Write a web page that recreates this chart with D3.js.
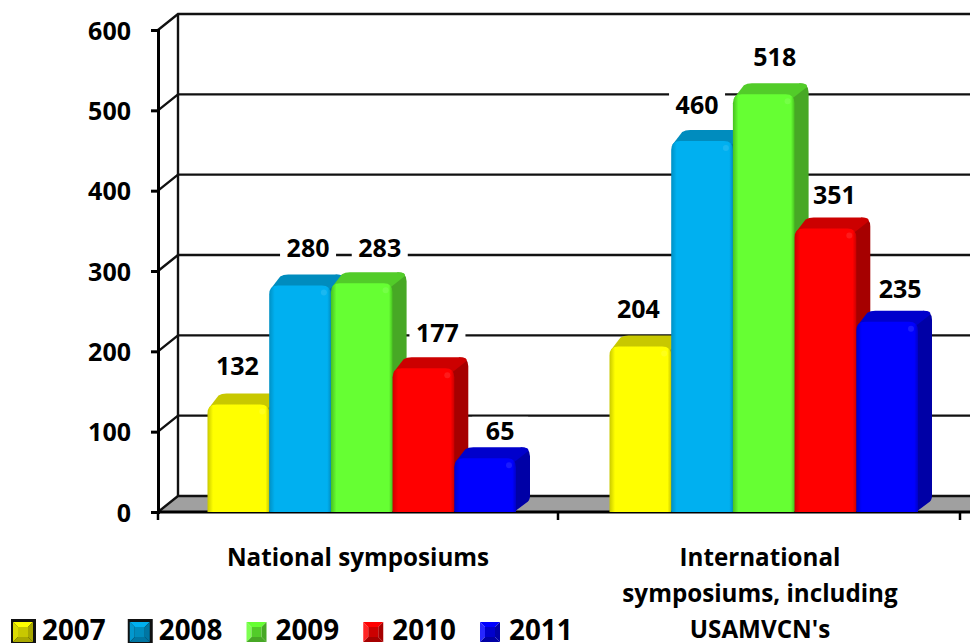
<!DOCTYPE html>
<html><head><meta charset="utf-8">
<script src="https://cdn.jsdelivr.net/npm/d3@7/dist/d3.min.js"></script>
<style>html,body{margin:0;padding:0;background:#fff;overflow:hidden}svg{display:block}
text{font-family:"Open Sans",Lato,sans-serif;font-weight:700;fill:#000}</style>
</head><body><svg id="c" width="970" height="643"></svg>
<script>
const categories = ["National symposiums", "International symposiums, including USAMVCN's"];
const categoryLines = [["National symposiums"], ["International", "symposiums, including", "USAMVCN's"]];
const years = ["2007", "2008", "2009", "2010", "2011"];
const s2007 = [132, 204];
const s2008 = [280, 460];
const s2009 = [283, 518];
const s2010 = [177, 351];
const s2011 = [65, 235];
const yTicks = [0, 100, 200, 300, 400, 500, 600];
const seriesValues = [s2007, s2008, s2009, s2010, s2011];
const faceColors = ["#FFFF00", "#00B0F0", "#66FF33", "#FF0000", "#0000FF"];
const topColors = ["#C8C800", "#008CBE", "#52CC29", "#CC0000", "#0000CC"];
const sideColors = ["#A8A800", "#0076A3", "#47A825", "#A60000", "#0000A6"];
const edgeColors = ["#C9C900", "#0090C4", "#48C020", "#CC0000", "#0000C8"];
const labelNudge = [[[-1, -40], [8, -39], [18, -37], [14, -37], [15, -29]], [[-2, -39], [-5, -37], [11, -39], [9, -35], [13, -34]]];

const svg = d3.select("#c");
const W = 970, dx = 20, dy = 16, barDx = 14, barDy = 11;
const y = d3.scaleLinear().domain([0, 600]).range([512, 30]);
const x0 = d3.scaleBand().domain(categories).range([158, 960]);
const x1 = d3.scaleBand().domain(years).range([0, 308.5]);
const groupOffset = [49.5, 50.5];
const defs = svg.append("defs");
faceColors.forEach((c, i) => {
  const g = defs.append("linearGradient").attr("id", "f" + i);
  [[0, edgeColors[i]], [0.09, c], [0.94, c], [1, edgeColors[i]]].forEach(s =>
    g.append("stop").attr("offset", s[0]).attr("stop-color", s[1]));
});

// floor and walls
svg.append("polygon").attr("fill", "#A0A0A0")
  .attr("points", [[158, 512], [158 + dx, 512 - dy], [W, 512 - dy], [W, 512]].join(" "));
const grid = svg.append("g").attr("stroke", "#111").attr("stroke-width", 2.4).attr("fill", "none");
yTicks.forEach(t => {
  grid.append("path").attr("d", `M158,${y(t)}L${158 + dx},${y(t) - dy}L${W},${y(t) - dy}`);
});
grid.append("path").attr("d", `M${158 + dx},${y(600) - dy}V${y(0) - dy}`);

// axes
const yAxis = d3.axisLeft(y).tickValues(yTicks).tickSize(7).tickPadding(20);
const gy = svg.append("g").attr("transform", "translate(158,0)").call(yAxis);
gy.selectAll("line,path").attr("stroke", "#000").attr("stroke-width", 3);
gy.selectAll("text").style("font-size", "25px").attr("dy", "0.36em").style("font-family", "'Open Sans'");
const xTicks = [158, 558, 960];
svg.append("line").attr("x1", 158).attr("x2", W).attr("y1", 512).attr("y2", 512).attr("stroke", "#000").attr("stroke-width", 3);
svg.selectAll(".xt").data(xTicks).enter().append("line").attr("x1", d => d).attr("x2", d => d)
  .attr("y1", 512).attr("y2", 520).attr("stroke", "#000").attr("stroke-width", 2.5);

const barX = (c, s) => x0.range()[0] + c * x0.bandwidth() + groupOffset[c] + x1(years[s]);
const bw = x1.bandwidth();
const labels = svg.append("g");
seriesValues.forEach((vals, s) => vals.forEach((v, c) => {
  const cx = barX(c, s) + bw / 2 + labelNudge[c][s][0], cy = y(v) + labelNudge[c][s][1];
  labels.append("rect").attr("x", cx - 28).attr("y", cy - 14).attr("width", 56).attr("height", 28).attr("fill", "#fff");
}));

// bars: drawn left to right so each covers its left neighbour's side
const r = 9;
seriesValues.forEach((vals, s) => vals.forEach((v, c) => {
  const X = barX(c, s), T = y(v) - 1.5, B = y(0), R = X + bw;
  const g = svg.append("g");
  g.append("path").attr("fill", sideColors[s])
    .attr("d", `M${R - 2},${B}L${R + barDx - 4},${B - barDy + 2}Q${R + barDx},${B - barDy} ${R + barDx},${B - barDy - 5}L${R + barDx},${T - barDy + r}Q${R + barDx},${T - barDy} ${R + barDx - r},${T - barDy}L${R - 6},${T}Z`);
  g.append("path").attr("fill", topColors[s])
    .attr("d", `M${X + 1},${T + 4}L${X + barDx - 3},${T - barDy + 2}Q${X + barDx},${T - barDy} ${X + barDx + 5},${T - barDy}L${R + barDx - r},${T - barDy}Q${R + barDx},${T - barDy} ${R + barDx - 2},${T - barDy + 4}L${R - 2},${T + 4}Z`);
  g.append("path").attr("fill", `url(#f${s})`)
    .attr("d", `M${X},${B}V${T + r}Q${X},${T} ${X + r},${T}H${R - r}Q${R},${T} ${R},${T + r}V${B}Z`);
  g.append("circle").attr("cx", R - 7).attr("cy", T + 7).attr("r", 3).attr("fill", "#fff").attr("opacity", 0.1);
}));

// value labels
seriesValues.forEach((vals, s) => vals.forEach((v, c) => {
  svg.append("text").attr("x", barX(c, s) + bw / 2 + labelNudge[c][s][0]).attr("y", y(v) + labelNudge[c][s][1])
    .attr("text-anchor", "middle").attr("dy", "0.36em").style("font-size", "25px").text(v);
}));

// category labels
categoryLines.forEach((lines, c) => {
  lines.forEach((t, i) => {
    svg.append("text").attr("x", [358, 760][c]).attr("y", 566 + i * 36)
      .attr("text-anchor", "middle").style("font-size", "24.2px").text(t);
  });
});

// legend
const legendX = d3.scalePoint().domain(years).range([13, 480]);
years.forEach((yr, s) => {
  const X = legendX(yr), Y = 622, S = 20, m = 5;
  const g = svg.append("g");
  if (s < 2) g.append("rect").attr("x", X - 2).attr("y", Y - 3).attr("width", S + 5).attr("height", S + 5).attr("fill", "#111");
  const P = (a) => a.map(p => [X + p[0], Y + p[1]]).join(" ");
  g.append("polygon").attr("points", P([[0, 0], [S, 0], [S - m, m], [m, m]])).attr("fill", faceColors[s]);
  g.append("polygon").attr("points", P([[0, 0], [m, m], [m, S - m], [0, S]])).attr("fill", faceColors[s]).attr("opacity", 0.85);
  g.append("polygon").attr("points", P([[S, 0], [S, S], [S - m, S - m], [S - m, m]])).attr("fill", sideColors[s]);
  g.append("polygon").attr("points", P([[0, S], [S, S], [S - m, S - m], [m, S - m]])).attr("fill", sideColors[s]);
  g.append("rect").attr("x", X + m).attr("y", Y + m).attr("width", S - 2 * m).attr("height", S - 2 * m).attr("fill", topColors[s]);
  svg.append("text").attr("x", X + 29).attr("y", 640).style("font-size", "27.8px").text(yr);
});
</script></body></html>
